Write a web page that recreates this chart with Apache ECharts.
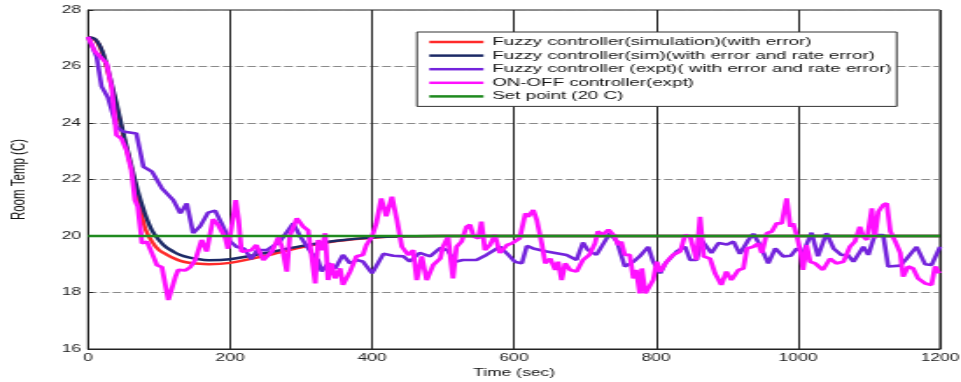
<!DOCTYPE html>
<html>
<head>
<meta charset="utf-8">
<script src="https://cdn.jsdelivr.net/npm/echarts@6/dist/echarts.min.js"></script>
<style>
html,body{margin:0;padding:0;background:#fff;overflow:hidden;width:961px;height:382px;}
#chart{width:549px;height:382px;transform:scaleX(1.7505);transform-origin:0 0;}
</style>
</head>
<body>
<div id="chart"></div>
<script>
// ---- data ----
var legendNames = [
  'Fuzzy controller(simulation)(with error)',
  'Fuzzy controller(sim)(with error and rate error)',
  'Fuzzy controller (expt)( with error and rate error)',
  'ON-OFF controller(expt)',
  'Set point (20 C)'
];
var xTicks = [0, 200, 400, 600, 800, 1000, 1200];
var yTicks = [16, 18, 20, 22, 24, 26, 28];

var simTime = [0,10,20,30,40,50,60,70,80,90,100,110,120,130,140,150,170,200,250,300,350,400,450,500,1200];
var simErrTemp = [27.05,26.95,26.5,25.6,24.6,23.5,22.5,21.4,20.3,19.8,19.5,19.35,19.22,19.12,19.06,19.03,19.0,19.05,19.3,19.6,19.82,19.94,19.99,20,20];
var simRateTemp = [27.05,26.97,26.55,25.7,24.7,23.6,22.6,21.6,20.8,20.2,19.85,19.6,19.45,19.33,19.25,19.2,19.14,19.18,19.4,19.64,19.83,19.95,19.99,20,20];

var exptTime = [0,12,19,28,40,49,68,78,90,104,120,130,139,148,158,169,179,188,200,209,220,230,238,252,270,289,299,313,324,329,338,348,359,369,378,387,400,416,430,444,453,467,482,496,506,517,528,547,561,580,592,601,611,618,627,646,674,688,697,704,716,735,745,756,768,777,789,796,806,813,829,841,848,857,864,878,888,900,909,918,930,937,946,958,968,979,990,998,1007,1019,1028,1040,1050,1061,1070,1078,1092,1099,1108,1120,1127,1144,1153,1167,1179,1188,1200];
var exptTemp = [27.05,26.35,25.3,24.9,23.87,23.7,23.63,22.45,22.28,21.69,21.27,20.8,21.15,20.1,20.35,20.83,20.9,20.45,19.82,19.62,19.55,19.18,19.5,19.5,19.8,20.45,19.98,19.45,19.15,18.74,19.03,18.85,19.33,19.03,19.15,19.1,18.68,19.37,19.3,19.28,19.1,19.4,19.28,19.58,19.5,19.09,19.15,19.15,19.33,19.62,19.33,19.09,19.03,19.65,19.56,19.45,19.33,19.15,19.77,19.5,19.33,20.1,19.8,18.92,19.09,19.28,19.62,19.09,18.68,19.03,19.45,19.62,19.15,19.15,19.86,19.4,19.75,19.7,19.8,19.37,19.86,20.08,19.7,19.03,19.56,19.28,19.3,19.56,19.4,20.12,19.28,20.1,19.56,19.33,19.33,19.09,19.62,19.33,20.03,20.03,18.92,18.95,19.2,19.62,19.0,18.97,19.62];

var onoffTime = [0,10,19,26,33,40,47,54,61,66,70,76,83,90,97,104,113,123,127,137,144,151,160,167,176,183,193,197,202,208,212,216,230,237,247,259,268,273,280,284,294,303,310,315,320,324,329,334,338,343,348,355,359,369,378,387,392,400,406,413,420,428,435,442,451,458,463,470,477,486,496,500,507,514,519,526,533,538,543,550,554,559,566,573,580,590,597,608,616,620,627,632,639,644,651,658,662,667,672,679,688,697,706,714,718,725,733,740,747,751,756,763,768,772,777,780,785,789,796,801,806,815,824,834,841,848,852,857,862,867,876,883,892,899,906,916,923,928,937,944,949,956,963,970,977,984,989,993,998,1003,1007,1012,1017,1024,1035,1045,1054,1064,1073,1080,1087,1092,1097,1104,1108,1113,1120,1125,1130,1137,1144,1148,1155,1162,1169,1179,1188,1193,1199];
var onoffTemp = [27.05,26.52,26.3,26.12,25.3,23.57,23.45,23.04,22.34,21.27,21.04,19.74,19.8,19.39,18.97,18.9,17.73,18.56,18.8,18.78,18.9,19.15,19.86,19.45,20.6,20.4,19.95,19.55,20.3,21.27,20.57,19.45,19.5,19.68,19.15,19.45,19.95,19.62,18.74,19.98,20.63,20.33,20.2,19.28,18.32,19.86,19.5,20.1,18.44,19.03,18.5,18.85,18.27,18.74,19.28,19.33,19.68,19.98,20.45,21.33,20.7,21.39,20.57,19.62,19.33,19.5,18.44,19.28,18.44,18.97,19.2,19.62,19.98,18.5,19.62,19.8,20.33,20.4,19.98,19.92,20.51,19.5,19.68,20.04,19.4,19.68,19.74,19.92,20.8,20.68,20.92,20.57,19.74,19.03,19.2,18.8,19.09,18.44,19.03,18.8,18.74,19.15,19.33,19.74,20.16,20.04,20.22,20.04,19.68,19.8,19.33,19.33,18.5,18.8,17.97,18.85,17.97,17.91,18.44,19.09,18.74,19.09,19.33,19.45,20.04,19.98,20.04,19.15,20.68,19.28,19.2,18.68,18.27,18.74,18.44,18.8,18.85,19.56,19.62,19.74,19.4,20.1,20.16,20.45,20.45,21.33,20.33,20.45,20.04,19.5,18.8,19.68,19.09,19.03,18.8,19.2,19.03,19.09,19.62,19.8,20.33,19.98,19.86,20.98,19.92,20.86,21.1,21.16,20.16,19.8,19.4,18.56,18.92,18.85,18.5,18.32,18.27,18.92,18.68];

var setTime = [0, 1200];
var setTemp = [20, 20];

// ---- build ----
function pairs(t, v) { return t.map(function (x, i) { return [x, v[i]]; }); }
var FONT = '"Liberation Sans", Arial, sans-serif';

var chart = echarts.init(document.getElementById('chart'), null, {renderer: 'canvas'});
chart.setOption({
  animation: false,
  backgroundColor: '#fff',
  grid: {left: 50.3, right: 12, top: 10, bottom: 33, containLabel: false, outerBoundsMode: 'none',
    show: true, borderColor: '#222', borderWidth: 1, backgroundColor: 'transparent'},
  legend: {
    data: legendNames,
    orient: 'vertical',
    left: 238.2, top: 32,
    icon: 'rect', itemWidth: 31, itemHeight: 2.5, itemGap: 1.6,
    padding: [4, 3, 4, 7],
    borderColor: '#333', borderWidth: 1, backgroundColor: '#fff',
    textStyle: {fontFamily: FONT, fontSize: 10.7, color: '#111', lineHeight: 12}
  },
  xAxis: {
    type: 'value', min: 0, max: 1200, interval: 200,
    name: 'Time (sec)', nameLocation: 'middle', nameGap: 16,
    nameTextStyle: {fontFamily: FONT, fontSize: 10, color: '#111'},
    axisLine: {show: true, lineStyle: {color: '#222', width: 1}},
    axisTick: {show: true, inside: true, length: 4, lineStyle: {color: '#222'}},
    axisLabel: {fontFamily: FONT, fontSize: 10, color: '#222', margin: 4,
      formatter: function (v) { return xTicks.indexOf(v) >= 0 ? String(v) : ''; }},
    splitLine: {show: true, lineStyle: {color: '#222', width: 1, type: 'solid'}}
  },
  yAxis: {
    type: 'value', min: 16, max: 28, interval: 2,
    name: 'Room Temp (C)', nameLocation: 'middle', nameGap: 33, nameRotate: 90,
    nameTextStyle: {fontFamily: FONT, fontSize: 11.5, color: '#111'},
    axisLine: {show: true, lineStyle: {color: '#222', width: 1}},
    axisTick: {show: true, inside: true, length: 3, lineStyle: {color: '#222'}},
    axisLabel: {fontFamily: FONT, fontSize: 10, color: '#222', margin: 4,
      formatter: function (v) { return yTicks.indexOf(v) >= 0 ? String(v) : ''; }},
    splitLine: {show: true, lineStyle: {color: '#8a8a8a', width: 1, type: [5, 2]}}
  },
  series: [
    {name: legendNames[0], type: 'line', data: pairs(simTime, simErrTemp), smooth: 0.3, showSymbol: false, symbol: 'none', z: 2,
      itemStyle: {color: '#ff2a2a'}, lineStyle: {color: '#ff2a2a', width: 2.5}},
    {name: legendNames[1], type: 'line', data: pairs(simTime, simRateTemp), smooth: 0.3, showSymbol: false, symbol: 'none', z: 3,
      itemStyle: {color: '#1c2a66'}, lineStyle: {color: '#1c2a66', width: 2.5}},
    {name: legendNames[2], type: 'line', data: pairs(exptTime, exptTemp), showSymbol: false, symbol: 'none', z: 4,
      itemStyle: {color: '#7424dc'}, lineStyle: {color: '#7424dc', width: 2.6}},
    {name: legendNames[3], type: 'line', data: pairs(onoffTime, onoffTemp), showSymbol: false, symbol: 'none', z: 5,
      itemStyle: {color: '#ff10ff'}, lineStyle: {color: '#ff10ff', width: 2.8}},
    {name: legendNames[4], type: 'line', data: pairs(setTime, setTemp), showSymbol: false, symbol: 'none', z: 6,
      itemStyle: {color: '#1f8a1f'}, lineStyle: {color: '#1f8a1f', width: 2.6}}
  ]
});
</script>
</body>
</html>
